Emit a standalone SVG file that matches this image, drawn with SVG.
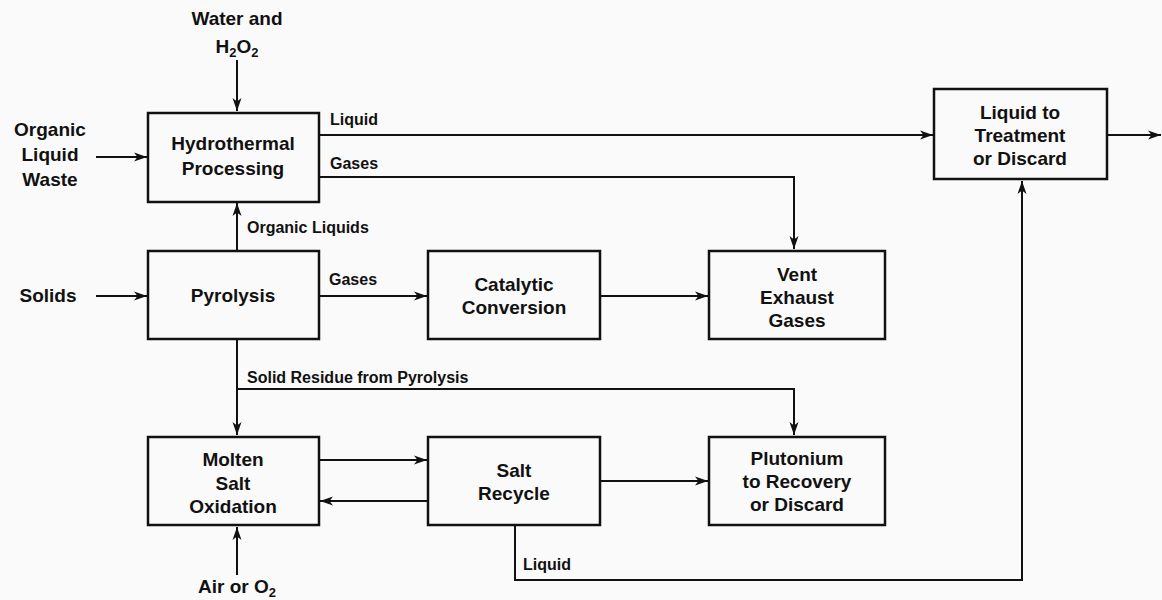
<svg xmlns="http://www.w3.org/2000/svg" width="1162" height="600" viewBox="0 0 1162 600">
<style>
.box{fill:none;stroke:#111;stroke-width:2.5}
.ln{fill:none;stroke:#111;stroke-width:2}
.arr{marker-end:url(#ah)}
.t{font-family:"Liberation Sans",Arial,sans-serif;font-weight:bold;font-size:19px;fill:#111;text-anchor:middle}
.s{font-family:"Liberation Sans",Arial,sans-serif;font-weight:bold;font-size:16px;fill:#111}
</style>
<defs>
<marker id="ah" markerWidth="14" markerHeight="10" refX="13" refY="5" orient="auto" markerUnits="userSpaceOnUse">
<path d="M0,0.5 L13,5 L0,9.5 L3.5,5 Z" fill="#111"/>
</marker>
</defs>
<rect width="1162" height="600" fill="#fafafa"/>

<g id="connectors">
<line class="ln arr" x1="237" y1="60" x2="237" y2="111"/>
<line class="ln arr" x1="96" y1="157" x2="147" y2="157"/>
<line class="ln arr" x1="319" y1="135" x2="933" y2="135"/>
<polyline class="ln arr" points="319,177 794,177 794,249"/>
<line class="ln arr" x1="1108" y1="135" x2="1161" y2="135"/>
<line class="ln arr" x1="237" y1="251" x2="237" y2="203"/>
<line class="ln arr" x1="96" y1="296" x2="147" y2="296"/>
<line class="ln arr" x1="319" y1="296" x2="427" y2="296"/>
<line class="ln arr" x1="600" y1="296" x2="708" y2="296"/>
<line class="ln arr" x1="237" y1="339" x2="237" y2="435"/>
<polyline class="ln arr" points="237,389 794,389 794,435"/>
<line class="ln arr" x1="319" y1="460" x2="427" y2="460"/>
<line class="ln arr" x1="428" y1="501" x2="320" y2="501"/>
<line class="ln arr" x1="600" y1="481" x2="708" y2="481"/>
<line class="ln arr" x1="237" y1="575" x2="237" y2="527"/>
<polyline class="ln arr" points="515,525 515,580 1022,580 1022,181"/>
<text class="s" x="330" y="125">Liquid</text>
<text class="s" x="330" y="169">Gases</text>
<text class="s" x="247" y="233">Organic Liquids</text>
<text class="s" x="329" y="285">Gases</text>
<text class="s" x="247" y="383">Solid Residue from Pyrolysis</text>
<text class="s" x="523" y="570">Liquid</text>
</g>

<g id="in-water">
<text class="t" x="237" y="25">Water and</text>
<text class="t" x="237" y="53">H<tspan font-size="13" dy="4">2</tspan><tspan dy="-4">O</tspan><tspan font-size="13" dy="4">2</tspan></text>
</g>
<g id="in-organic">
<text class="t" x="50" y="136">Organic</text>
<text class="t" x="50" y="161">Liquid</text>
<text class="t" x="50" y="186">Waste</text>
</g>
<g id="in-solids">
<text class="t" x="48" y="302">Solids</text>
</g>
<g id="in-air">
<text class="t" x="237" y="593">Air or O<tspan font-size="13" dy="4">2</tspan></text>
</g>

<g id="hydrothermal">
<rect class="box" x="148" y="113" width="171" height="89"/>
<text class="t" x="233" y="150">Hydrothermal</text>
<text class="t" x="233" y="175">Processing</text>
</g>
<g id="treatment">
<rect class="box" x="934" y="89" width="173" height="90"/>
<text class="t" x="1020" y="119">Liquid to</text>
<text class="t" x="1020" y="142">Treatment</text>
<text class="t" x="1020" y="165">or Discard</text>
</g>
<g id="pyrolysis">
<rect class="box" x="148" y="251" width="171" height="88"/>
<text class="t" x="233" y="302">Pyrolysis</text>
</g>
<g id="catalytic">
<rect class="box" x="428" y="251" width="172" height="88"/>
<text class="t" x="514" y="291">Catalytic</text>
<text class="t" x="514" y="314">Conversion</text>
</g>
<g id="vent">
<rect class="box" x="709" y="251" width="176" height="88"/>
<text class="t" x="797" y="281">Vent</text>
<text class="t" x="797" y="304">Exhaust</text>
<text class="t" x="797" y="327">Gases</text>
</g>
<g id="molten">
<rect class="box" x="148" y="437" width="171" height="88"/>
<text class="t" x="233" y="466">Molten</text>
<text class="t" x="233" y="490">Salt</text>
<text class="t" x="233" y="513">Oxidation</text>
</g>
<g id="salt">
<rect class="box" x="428" y="437" width="172" height="88"/>
<text class="t" x="514" y="477">Salt</text>
<text class="t" x="514" y="500">Recycle</text>
</g>
<g id="plutonium">
<rect class="box" x="709" y="437" width="176" height="88"/>
<text class="t" x="797" y="465">Plutonium</text>
<text class="t" x="797" y="488">to Recovery</text>
<text class="t" x="797" y="511">or Discard</text>
</g>
</svg>
